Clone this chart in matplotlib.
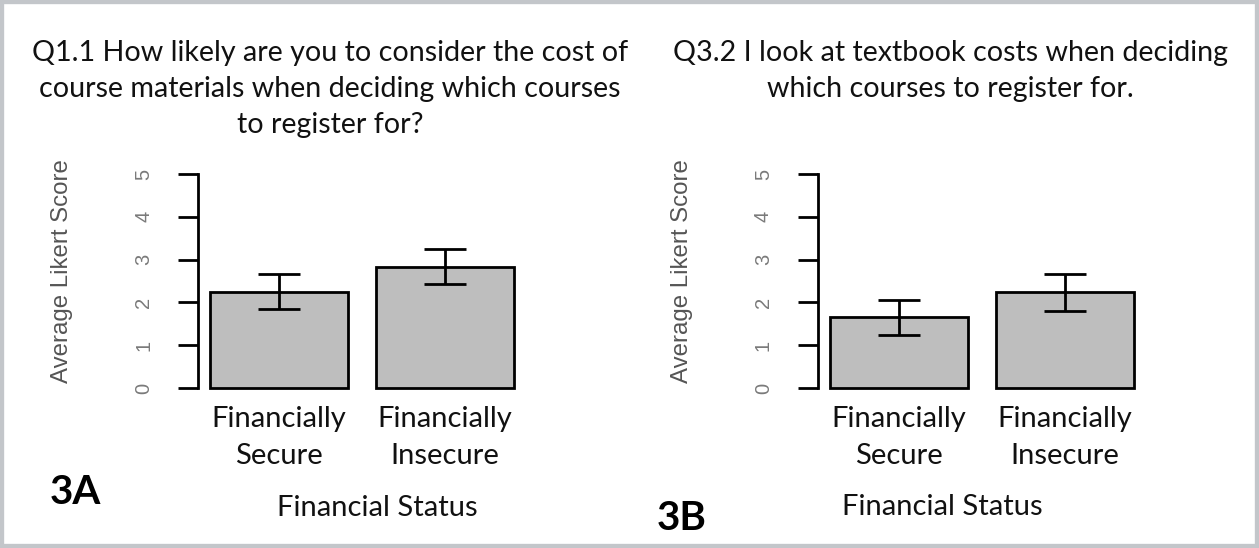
import matplotlib
matplotlib.use("Agg")
import matplotlib.pyplot as plt
from matplotlib.patches import Rectangle

categorias = ["Financially\nSecure", "Financially\nInsecure"]
medias_a = [2.25, 2.83]
errores_a = [0.41, 0.41]
medias_b = [1.65, 2.24]
errores_b = [0.40, 0.43]
titulo_a = "Q1.1 How likely are you to consider the cost of\ncourse materials when deciding which courses\nto register for?"
titulo_b = "Q3.2 I look at textbook costs when deciding\nwhich courses to register for."
etiqueta_y = "Average Likert Score"
etiqueta_x = "Financial Status"

W, H = 1259, 548
fig = plt.figure(figsize=(W / 100, H / 100), dpi=100)
fuente = "Lato"
lw = 2.0


def panel(izq, medias, errores):
    # R barplot style: width 1, space 0.2, 4% padding
    ax = fig.add_axes([izq / W, 1 - 396.6 / H, 328 / W, (396.6 - 165.4) / H])
    pos = [0.7, 1.9]
    ax.bar(pos, medias, width=1.0, color="#bebebe", edgecolor="black", linewidth=lw)
    ax.errorbar(pos, medias, yerr=errores, fmt="none", ecolor="black",
                elinewidth=lw, capsize=14.8, capthick=lw)
    ax.set_xlim(0.112, 2.488)
    ax.set_ylim(-0.2, 5.2)
    for s in ["top", "right", "bottom"]:
        ax.spines[s].set_visible(False)
    ax.spines["left"].set_bounds(0, 5)
    ax.spines["left"].set_linewidth(lw)
    ax.set_yticks(range(6))
    ax.set_yticklabels([str(i) for i in range(6)], rotation=90, va="center",
                       color="#7a7a7a", fontsize=14.5, family="Liberation Sans")
    ax.tick_params(axis="y", length=14.4, width=lw, pad=18)
    ax.set_xticks(pos)
    ax.set_xticklabels(categorias, family=fuente, fontsize=21, linespacing=1.5,
                       color="#111111")
    ax.tick_params(axis="x", length=0, pad=7)
    return ax


panel(198, medias_a, errores_a)
panel(818, medias_b, errores_b)

fig.text(330 / W, 1 - 89 / H, titulo_a, ha="center", va="center", family=fuente,
         fontsize=20.6, linespacing=1.48, color="#111111")
fig.text(950 / W, 1 - 71 / H, titulo_b, ha="center", va="center", family=fuente,
         fontsize=20.6, linespacing=1.48, color="#111111")

for cx in [62, 682]:
    fig.text(cx / W, 1 - 271 / H, etiqueta_y, rotation=90, ha="center", va="center",
             family="Liberation Sans", fontsize=17.3, color="#555555")

fig.text(377 / W, 1 - 508 / H, etiqueta_x, ha="center", va="center", family=fuente,
         fontsize=21, color="#111111")
fig.text(942 / W, 1 - 507 / H, etiqueta_x, ha="center", va="center", family=fuente,
         fontsize=21, color="#111111")
fig.text(75 / W, 1 - 493 / H, "3A", ha="center", va="center", family=fuente,
         fontsize=29, fontweight="bold")
fig.text(682 / W, 1 - 518 / H, "3B", ha="center", va="center", family=fuente,
         fontsize=29, fontweight="bold")

fig.patches.append(Rectangle((0, 0), 1, 1, transform=fig.transFigure, fill=False,
                             edgecolor="#c3c6ca", linewidth=6, zorder=10))

fig.savefig("out.png", dpi=100)
